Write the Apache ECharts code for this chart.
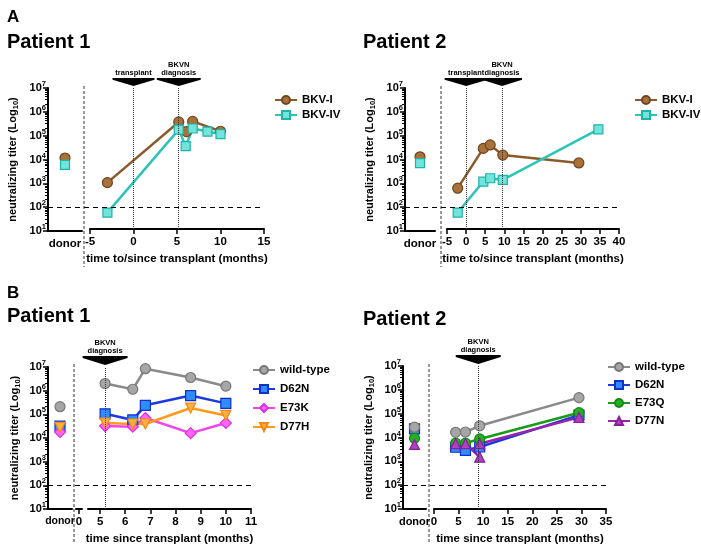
<!DOCTYPE html>
<html><head><meta charset="utf-8">
<script src="https://cdn.jsdelivr.net/npm/echarts@6/dist/echarts.min.js"></script>
<style>
html,body{margin:0;padding:0;background:#fff;width:701px;height:550px;overflow:hidden}
.p{position:absolute}
</style></head><body>
<div id="a1" class="p" style="left:0;top:0;width:350px;height:270px"></div>
<div id="a2" class="p" style="left:350px;top:0;width:351px;height:270px"></div>
<div id="b1" class="p" style="left:0;top:270px;width:350px;height:280px"></div>
<div id="b2" class="p" style="left:350px;top:270px;width:351px;height:280px"></div>
<script>
// ---------- DATA ----------
const DONOR = 'donor';
const Y_TITLE = 'neutralizing titer (Log{sub|10})';
// Panel A, Patient 1
const A1_BKVI_time = [-3, 5.2, 6.1, 6.8, 10];
const A1_BKVI_val = [950, 360000, 140000, 380000, 145000];
const A1_BKVI_donor = 11500;
const A1_BKVIV_time = [-3, 5.2, 6.0, 6.8, 8.5, 10];
const A1_BKVIV_val = [50, 170000, 34000, 190000, 140000, 110000];
const A1_BKVIV_donor = 6000;
const A1_events = [0, 5.2];
// Panel A, Patient 2
const A2_BKVI_time = [-2.2, 4.5, 6.3, 9.6, 29.5];
const A2_BKVI_val = [550, 27000, 38000, 14000, 6500];
const A2_BKVI_donor = 13000;
const A2_BKVIV_time = [-2.2, 4.5, 6.3, 9.6, 34.6];
const A2_BKVIV_val = [50, 1050, 1450, 1250, 175000];
const A2_BKVIV_donor = 7000;
const A2_events = [0, 9.4];
// Panel B, Patient 1
const B1_time = [5.2, 6.3, 6.8, 8.6, 10];
const B1_wt = [2.0e6, 1.15e6, 8.5e6, 3.6e6, 1.55e6];
const B1_D62N = [1.05e5, 5.8e4, 2.4e5, 6.2e5, 2.9e5];
const B1_E73K = [3.2e4, 3.0e4, 7.0e4, 1.6e4, 4.3e4];
const B1_D77H = [4.3e4, 3.9e4, 3.9e4, 1.85e5, 9.0e4];
const B1_donor = [2.1e5, 3.2e4, 1.8e4, 2.8e4];
const B1_ticks = [5, 6, 7, 8, 9, 10, 11];
const B1_events = [5.2];
// Panel B, Patient 2
const B2_time = [4.4, 6.4, 9.3, 29.5];
const B2_wt = [1.65e4, 1.7e4, 3.1e4, 4.7e5];
const B2_D62N = [3.9e3, 2.9e3, 4.0e3, 8.7e4];
const B2_E73Q = [5.8e3, 5.8e3, 8.7e3, 1.1e5];
const B2_D77N_time = [4.4, 6.4, 9.3, 9.3, 29.5];
const B2_D77N = [5.5e3, 5.5e3, 1.5e3, 5.5e3, 7.0e4];
const B2_donor = [2.7e4, 2.3e4, 9.3e3, 5.1e3];
const B2_events = [9.0];

// ---------- STYLE ----------
const FONT = '"Liberation Sans", Arial, Helvetica, sans-serif';
const ARROW = 'path://M0,0 L44,0 L44,2 L22,9 L0,2 Z';
const INV_TRI = 'path://M0,0 L10,0 L5,9 Z';
const ST = {
  brown: {line:'#8a5a2b', fill:'#a8723a', border:'#6e4520', symbol:'circle', size:10},
  cyan: {line:'#2cc4b8', fill:'#72e4dc', border:'#1eb3a7', symbol:'rect', size:9},
  gray: {line:'#8a8a8a', fill:'#a6a6a6', border:'#777', symbol:'circle', size:10},
  blue: {line:'#1a3ae0', fill:'#2f8cff', border:'#1030c8', symbol:'rect', size:10},
  magenta: {line:'#f244ec', fill:'#ff66ff', border:'#e030e0', symbol:'diamond', size:11},
  orange: {line:'#ff9a1c', fill:'#ffae40', border:'#f08a10', symbol:INV_TRI, size:10},
  green: {line:'#1a9a1a', fill:'#22b322', border:'#168816', symbol:'circle', size:10},
  purple: {line:'#9a24a8', fill:'#b040c0', border:'#88209a', symbol:'triangle', size:10}
};

function supLabel(v){ return '{b|10}{s|' + Math.round(Math.log10(v)) + '}'; }
const boldTxt = (sz) => ({color:'#000', fontWeight:'bold', fontSize:sz, fontFamily:FONT});

function build(id, P){
  const chart = echarts.init(document.getElementById(id), null, {renderer:'canvas'});
  const top = P.top, h = P.bottom - P.top;
  const grids = [
    {left:P.yx, top, width:P.donorR - P.yx, height:h},
    {left:P.mainL, top, width:P.mainR - P.mainL, height:h},
    {left:P.yx, top, width:P.mainR - P.yx, height:h}
  ];
  const yBase = () => ({type:'log', logBase:10, min:10, max:1e7, splitNumber:6});
  const axLine = {show:true, onZero:false, lineStyle:{color:'#000', width:2}};
  const xAxes = [], yAxes = [];
  xAxes.push({gridIndex:0, type:'category', data:[DONOR], boundaryGap:true,
    axisTick:{show:false}, axisLine:axLine,
    axisLabel:Object.assign({margin:P.lm}, boldTxt(P.donorFs || 11.5))});
  yAxes.push(Object.assign(yBase(), {gridIndex:0,
    axisLine:axLine,
    axisTick:{show:true, length:5, lineStyle:{width:1.5, color:'#000'}},
    minorTick:{show:true, splitNumber:8, length:3, lineStyle:{color:'#000', width:1}},
    splitLine:{show:false},
    axisLabel:{formatter:supLabel, margin:2, rich:{b:boldTxt(11), s:Object.assign(boldTxt(7.5), {padding:[0,0,8,0]})}},
    name:Y_TITLE, nameLocation:'middle', nameGap:P.yng,
    nameTextStyle:Object.assign(boldTxt(11), {rich:{sub:Object.assign(boldTxt(7.5), {padding:[6,0,0,0]})}})
  }));
  const mainX = {gridIndex:1, type:'value', min:P.xmin, max:P.xmax,
    splitLine:{show:false}, axisLine:axLine,
    axisTick:{show:true, length:5, lineStyle:{width:1.5, color:'#000'}},
    axisLabel:Object.assign({margin:P.lm, showMinLabel:true, showMaxLabel:true}, boldTxt(11.5)),
    name:P.xname, nameLocation:'middle', nameGap:P.xng, nameTextStyle:boldTxt(11.5)};
  if (P.ticks) {
    mainX.axisLabel.customValues = P.ticks;
    mainX.axisTick.customValues = P.ticks;
  } else {
    mainX.interval = P.xint;
  }
  xAxes.push(mainX);
  yAxes.push(Object.assign(yBase(), {gridIndex:1, show:false}));
  xAxes.push({gridIndex:2, type:'value', min:0, max:1, show:false});
  yAxes.push(Object.assign(yBase(), {gridIndex:2, show:false}));
  if (P.stub) {
    grids.push({left:P.stub[0], top, width:P.stub[1]-P.stub[0], height:h});
    xAxes.push({gridIndex:3, type:'value', min:-1, max:1, splitLine:{show:false}, axisLine:axLine,
      axisTick:{show:true, length:5, customValues:[0], lineStyle:{width:1.5, color:'#000'}},
      axisLabel:Object.assign({margin:P.lm, customValues:[0]}, boldTxt(11.5))});
    yAxes.push(Object.assign(yBase(), {gridIndex:3, show:false}));
  }
  const series = [];
  P.series.forEach(s => {
    const st = ST[s.style];
    const common = {name:s.name, type:'line', symbol:st.symbol, symbolSize:st.size,
      lineStyle:{color:st.line, width:2.5},
      itemStyle:{color:st.fill, borderColor:st.border, borderWidth:1.2},
      emphasis:{disabled:true}, animation:false};
    series.push(Object.assign({}, common, {xAxisIndex:1, yAxisIndex:1,
      data:s.t.map((t, i) => [t, s.v[i]])}));
    series.push(Object.assign({}, common, {xAxisIndex:0, yAxisIndex:0, z:(s.dz || 2),
      data:[[DONOR, s.donor]]}));
  });
  series.push({type:'line', xAxisIndex:1, yAxisIndex:1, data:[], animation:false,
    markLine:{silent:true, symbol:'none', label:{show:false}, animation:false,
      lineStyle:{type:'dotted', color:'#333', width:1},
      data:P.events.map(e => ({xAxis:e.x}))},
    markPoint:{silent:true, animation:false,
      data:P.events.map(e => ({coord:[e.x, 1e7], symbol:ARROW, symbolSize:[e.w, e.h],
        symbolKeepAspect:false, symbolOffset:[0, -(e.h/2 + e.g)],
        itemStyle:{color:'#000'},
        label:Object.assign({show:true, position:'top', distance:1, formatter:e.label, lineHeight:8}, boldTxt(7.5))}))}
  });
  series.push({type:'line', xAxisIndex:2, yAxisIndex:2, data:[], animation:false,
    markLine:{silent:true, symbol:'none', label:{show:false}, animation:false,
      lineStyle:{type:[5,4], color:'#000', width:1.2}, data:[{yAxis:100}]}});
  const graphic = [
    {type:'line', shape:{x1:P.sep, y1:P.sepT, x2:P.sep, y2:P.sepB}, style:{stroke:'#333', lineDash:[3,2], lineWidth:1}},
    {type:'text', left:P.titleX, top:P.titleY, style:{text:P.title, font:'bold 20px ' + FONT, fill:'#000'}}
  ];
  if (P.letter) graphic.push({type:'text', left:7, top:P.letterY, style:{text:P.letter, font:'bold 17px ' + FONT, fill:'#000'}});
  chart.setOption({
    animation:false,
    grid:grids, xAxis:xAxes, yAxis:yAxes, series,
    legend:{data:P.series.map(s => s.name), orient:'vertical', left:P.lgL, top:P.lgT,
      itemWidth:22, itemHeight:10, itemGap:P.lgGap, selectedMode:false,
      textStyle:boldTxt(11.5)},
    graphic
  });
}

build('a1', {yx:48, top:88, bottom:231, donorR:82, mainL:90, mainR:264, xmin:-5, xmax:15, xint:5,
  lm:7, xng:20, yng:28, xname:'time to/since transplant (months)',
  sep:84, sepT:86, sepB:267, lgL:269, lgT:89, lgGap:3,
  letter:'A', letterY:9, title:'Patient 1', titleX:7, titleY:32,
  events:[{x:A1_events[0], label:'transplant', w:42, h:8, g:2}, {x:A1_events[1], label:'BKVN\ndiagnosis', w:44, h:8, g:2}],
  series:[
    {name:'BKV-I', style:'brown', t:A1_BKVI_time, v:A1_BKVI_val, donor:A1_BKVI_donor},
    {name:'BKV-IV', style:'cyan', t:A1_BKVIV_time, v:A1_BKVIV_val, donor:A1_BKVIV_donor}
  ]});
build('a2', {yx:55, top:88, bottom:231, donorR:85, mainL:97, mainR:269, xmin:-5, xmax:40, xint:5,
  lm:7, xng:20, yng:28, xname:'time to/since transplant (months)',
  sep:91, sepT:86, sepB:267, lgL:279, lgT:89, lgGap:3,
  title:'Patient 2', titleX:13, titleY:32,
  events:[{x:A2_events[0], label:'transplant', w:43, h:8, g:2}, {x:A2_events[1], label:'BKVN\ndiagnosis', w:40, h:8, g:2}],
  series:[
    {name:'BKV-I', style:'brown', t:A2_BKVI_time, v:A2_BKVI_val, donor:A2_BKVI_donor},
    {name:'BKV-IV', style:'cyan', t:A2_BKVIV_time, v:A2_BKVIV_val, donor:A2_BKVIV_donor}
  ]});
build('b1', {yx:48, top:97, bottom:239, donorR:72, mainL:88, mainR:251, xmin:4.52, xmax:11, ticks:B1_ticks,
  stub:[76, 82], lm:7, xng:19, yng:26, xname:'time since transplant (months)', donorFs:10.5,
  sep:74, sepT:94, sepB:273, lgL:247, lgT:89, lgGap:7,
  letter:'B', letterY:15, title:'Patient 1', titleX:7, titleY:36,
  events:[{x:B1_events[0], label:'BKVN\ndiagnosis', w:45, h:9, g:2}],
  series:[
    {name:'wild-type', style:'gray', t:B1_time, v:B1_wt, donor:B1_donor[0]},
    {name:'D62N', style:'blue', t:B1_time, v:B1_D62N, donor:B1_donor[1]},
    {name:'E73K', style:'magenta', t:B1_time, v:B1_E73K, donor:B1_donor[2]},
    {name:'D77H', style:'orange', t:B1_time, v:B1_D77H, donor:B1_donor[3]}
  ]});
build('b2', {yx:53, top:96, bottom:239, donorR:76, mainL:84, mainR:256, xmin:0, xmax:35, xint:5,
  lm:7, xng:19, yng:27, xname:'time since transplant (months)', donorFs:11,
  sep:79, sepT:94, sepB:273, lgL:252, lgT:86, lgGap:6,
  title:'Patient 2', titleX:13, titleY:39,
  events:[{x:B2_events[0], label:'BKVN\ndiagnosis', w:45, h:9, g:2}],
  series:[
    {name:'wild-type', style:'gray', t:B2_time, v:B2_wt, donor:B2_donor[0], dz:5},
    {name:'D62N', style:'blue', t:B2_time, v:B2_D62N, donor:B2_donor[1]},
    {name:'E73Q', style:'green', t:B2_time, v:B2_E73Q, donor:B2_donor[2]},
    {name:'D77N', style:'purple', t:B2_D77N_time, v:B2_D77N, donor:B2_donor[3]}
  ]});
</script>
</body></html>
